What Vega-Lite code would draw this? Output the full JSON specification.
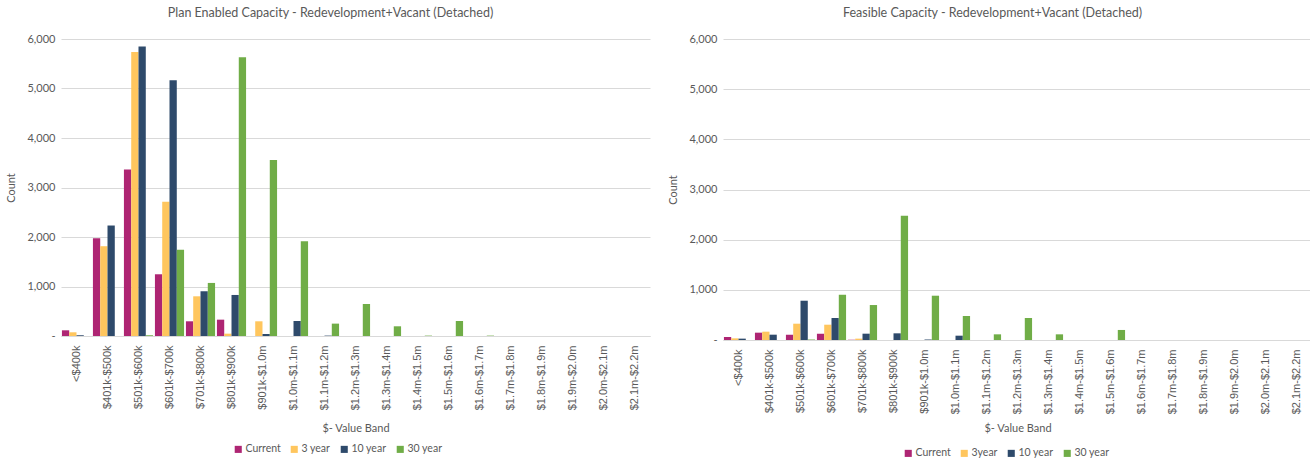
{
  "$schema": "https://vega.github.io/schema/vega-lite/v6.json",
  "background": "white",
  "padding": {"left": 5, "right": 3, "top": 6, "bottom": 0},
  "config": {
    "font": "Lato",
    "view": {"stroke": null},
    "concat": {"spacing": 17},
    "title": {"fontSize": 12.5, "fontWeight": "normal", "color": "#595959", "font": "Lato", "offset": 14},
    "axis": {"labelColor": "#595959", "titleColor": "#595959", "titleFontWeight": "normal", "titleFont": "Lato", "labelFontSize": 10.5, "titleFontSize": 11},
    "legend": {"orient": "none", "direction": "horizontal", "title": null, "symbolType": "square", "symbolSize": 50, "labelFontSize": 10.5, "labelColor": "#595959", "labelFont": "Lato", "columnPadding": 8, "symbolStrokeWidth": 0, "padding": 0, "labelOffset": 2}
  },
  "resolve": {"legend": {"color": "independent"}},
  "datasets": {
    "plan": [
      {"band": "<$400k", "series": "Current", "value": 115}, {"band": "<$400k", "series": "3 year", "value": 75}, {"band": "<$400k", "series": "10 year", "value": 15}, {"band": "<$400k", "series": "30 year", "value": 0},
      {"band": "$401k-$500k", "series": "Current", "value": 1976}, {"band": "$401k-$500k", "series": "3 year", "value": 1814}, {"band": "$401k-$500k", "series": "10 year", "value": 2232}, {"band": "$401k-$500k", "series": "30 year", "value": 0},
      {"band": "$501k-$600k", "series": "Current", "value": 3365}, {"band": "$501k-$600k", "series": "3 year", "value": 5738}, {"band": "$501k-$600k", "series": "10 year", "value": 5846}, {"band": "$501k-$600k", "series": "30 year", "value": 15},
      {"band": "$601k-$700k", "series": "Current", "value": 1247}, {"band": "$601k-$700k", "series": "3 year", "value": 2711}, {"band": "$601k-$700k", "series": "10 year", "value": 5165}, {"band": "$601k-$700k", "series": "30 year", "value": 1740},
      {"band": "$701k-$800k", "series": "Current", "value": 297}, {"band": "$701k-$800k", "series": "3 year", "value": 802}, {"band": "$701k-$800k", "series": "10 year", "value": 904}, {"band": "$701k-$800k", "series": "30 year", "value": 1072},
      {"band": "$801k-$900k", "series": "Current", "value": 330}, {"band": "$801k-$900k", "series": "3 year", "value": 47}, {"band": "$801k-$900k", "series": "10 year", "value": 829}, {"band": "$801k-$900k", "series": "30 year", "value": 5630},
      {"band": "$901k-$1.0m", "series": "Current", "value": 0}, {"band": "$901k-$1.0m", "series": "3 year", "value": 297}, {"band": "$901k-$1.0m", "series": "10 year", "value": 40}, {"band": "$901k-$1.0m", "series": "30 year", "value": 3554},
      {"band": "$1.0m-$1.1m", "series": "Current", "value": 0}, {"band": "$1.0m-$1.1m", "series": "3 year", "value": 0}, {"band": "$1.0m-$1.1m", "series": "10 year", "value": 303}, {"band": "$1.0m-$1.1m", "series": "30 year", "value": 1915},
      {"band": "$1.1m-$1.2m", "series": "Current", "value": 0}, {"band": "$1.1m-$1.2m", "series": "3 year", "value": 0}, {"band": "$1.1m-$1.2m", "series": "10 year", "value": 8}, {"band": "$1.1m-$1.2m", "series": "30 year", "value": 250},
      {"band": "$1.2m-$1.3m", "series": "Current", "value": 0}, {"band": "$1.2m-$1.3m", "series": "3 year", "value": 0}, {"band": "$1.2m-$1.3m", "series": "10 year", "value": 0}, {"band": "$1.2m-$1.3m", "series": "30 year", "value": 647},
      {"band": "$1.3m-$1.4m", "series": "Current", "value": 0}, {"band": "$1.3m-$1.4m", "series": "3 year", "value": 0}, {"band": "$1.3m-$1.4m", "series": "10 year", "value": 0}, {"band": "$1.3m-$1.4m", "series": "30 year", "value": 196},
      {"band": "$1.4m-$1.5m", "series": "Current", "value": 0}, {"band": "$1.4m-$1.5m", "series": "3 year", "value": 0}, {"band": "$1.4m-$1.5m", "series": "10 year", "value": 0}, {"band": "$1.4m-$1.5m", "series": "30 year", "value": 8},
      {"band": "$1.5m-$1.6m", "series": "Current", "value": 0}, {"band": "$1.5m-$1.6m", "series": "3 year", "value": 0}, {"band": "$1.5m-$1.6m", "series": "10 year", "value": 0}, {"band": "$1.5m-$1.6m", "series": "30 year", "value": 303},
      {"band": "$1.6m-$1.7m", "series": "Current", "value": 0}, {"band": "$1.6m-$1.7m", "series": "3 year", "value": 0}, {"band": "$1.6m-$1.7m", "series": "10 year", "value": 0}, {"band": "$1.6m-$1.7m", "series": "30 year", "value": 8},
      {"band": "$1.7m-$1.8m", "series": "Current", "value": 0}, {"band": "$1.7m-$1.8m", "series": "3 year", "value": 0}, {"band": "$1.7m-$1.8m", "series": "10 year", "value": 0}, {"band": "$1.7m-$1.8m", "series": "30 year", "value": 0},
      {"band": "$1.8m-$1.9m", "series": "Current", "value": 0}, {"band": "$1.8m-$1.9m", "series": "3 year", "value": 0}, {"band": "$1.8m-$1.9m", "series": "10 year", "value": 0}, {"band": "$1.8m-$1.9m", "series": "30 year", "value": 0},
      {"band": "$1.9m-$2.0m", "series": "Current", "value": 0}, {"band": "$1.9m-$2.0m", "series": "3 year", "value": 0}, {"band": "$1.9m-$2.0m", "series": "10 year", "value": 0}, {"band": "$1.9m-$2.0m", "series": "30 year", "value": 0},
      {"band": "$2.0m-$2.1m", "series": "Current", "value": 0}, {"band": "$2.0m-$2.1m", "series": "3 year", "value": 0}, {"band": "$2.0m-$2.1m", "series": "10 year", "value": 0}, {"band": "$2.0m-$2.1m", "series": "30 year", "value": 0},
      {"band": "$2.1m-$2.2m", "series": "Current", "value": 0}, {"band": "$2.1m-$2.2m", "series": "3 year", "value": 0}, {"band": "$2.1m-$2.2m", "series": "10 year", "value": 0}, {"band": "$2.1m-$2.2m", "series": "30 year", "value": 0}
    ],
    "feasible": [
      {"band": "<$400k", "series": "Current", "value": 60}, {"band": "<$400k", "series": "3 year", "value": 33}, {"band": "<$400k", "series": "10 year", "value": 27}, {"band": "<$400k", "series": "30 year", "value": 0},
      {"band": "$401k-$500k", "series": "Current", "value": 146}, {"band": "$401k-$500k", "series": "3 year", "value": 166}, {"band": "$401k-$500k", "series": "10 year", "value": 106}, {"band": "$401k-$500k", "series": "30 year", "value": 0},
      {"band": "$501k-$600k", "series": "Current", "value": 106}, {"band": "$501k-$600k", "series": "3 year", "value": 325}, {"band": "$501k-$600k", "series": "10 year", "value": 783}, {"band": "$501k-$600k", "series": "30 year", "value": 10},
      {"band": "$601k-$700k", "series": "Current", "value": 126}, {"band": "$601k-$700k", "series": "3 year", "value": 305}, {"band": "$601k-$700k", "series": "10 year", "value": 438}, {"band": "$601k-$700k", "series": "30 year", "value": 902},
      {"band": "$701k-$800k", "series": "Current", "value": 7}, {"band": "$701k-$800k", "series": "3 year", "value": 27}, {"band": "$701k-$800k", "series": "10 year", "value": 126}, {"band": "$701k-$800k", "series": "30 year", "value": 697},
      {"band": "$801k-$900k", "series": "Current", "value": 0}, {"band": "$801k-$900k", "series": "3 year", "value": 0}, {"band": "$801k-$900k", "series": "10 year", "value": 133}, {"band": "$801k-$900k", "series": "30 year", "value": 2475},
      {"band": "$901k-$1.0m", "series": "Current", "value": 0}, {"band": "$901k-$1.0m", "series": "3 year", "value": 0}, {"band": "$901k-$1.0m", "series": "10 year", "value": 10}, {"band": "$901k-$1.0m", "series": "30 year", "value": 883},
      {"band": "$1.0m-$1.1m", "series": "Current", "value": 0}, {"band": "$1.0m-$1.1m", "series": "3 year", "value": 0}, {"band": "$1.0m-$1.1m", "series": "10 year", "value": 86}, {"band": "$1.0m-$1.1m", "series": "30 year", "value": 478},
      {"band": "$1.1m-$1.2m", "series": "Current", "value": 0}, {"band": "$1.1m-$1.2m", "series": "3 year", "value": 0}, {"band": "$1.1m-$1.2m", "series": "10 year", "value": 0}, {"band": "$1.1m-$1.2m", "series": "30 year", "value": 113},
      {"band": "$1.2m-$1.3m", "series": "Current", "value": 0}, {"band": "$1.2m-$1.3m", "series": "3 year", "value": 0}, {"band": "$1.2m-$1.3m", "series": "10 year", "value": 0}, {"band": "$1.2m-$1.3m", "series": "30 year", "value": 438},
      {"band": "$1.3m-$1.4m", "series": "Current", "value": 0}, {"band": "$1.3m-$1.4m", "series": "3 year", "value": 0}, {"band": "$1.3m-$1.4m", "series": "10 year", "value": 0}, {"band": "$1.3m-$1.4m", "series": "30 year", "value": 113},
      {"band": "$1.4m-$1.5m", "series": "Current", "value": 0}, {"band": "$1.4m-$1.5m", "series": "3 year", "value": 0}, {"band": "$1.4m-$1.5m", "series": "10 year", "value": 0}, {"band": "$1.4m-$1.5m", "series": "30 year", "value": 0},
      {"band": "$1.5m-$1.6m", "series": "Current", "value": 0}, {"band": "$1.5m-$1.6m", "series": "3 year", "value": 0}, {"band": "$1.5m-$1.6m", "series": "10 year", "value": 0}, {"band": "$1.5m-$1.6m", "series": "30 year", "value": 200},
      {"band": "$1.6m-$1.7m", "series": "Current", "value": 0}, {"band": "$1.6m-$1.7m", "series": "3 year", "value": 0}, {"band": "$1.6m-$1.7m", "series": "10 year", "value": 0}, {"band": "$1.6m-$1.7m", "series": "30 year", "value": 0},
      {"band": "$1.7m-$1.8m", "series": "Current", "value": 0}, {"band": "$1.7m-$1.8m", "series": "3 year", "value": 0}, {"band": "$1.7m-$1.8m", "series": "10 year", "value": 0}, {"band": "$1.7m-$1.8m", "series": "30 year", "value": 0},
      {"band": "$1.8m-$1.9m", "series": "Current", "value": 0}, {"band": "$1.8m-$1.9m", "series": "3 year", "value": 0}, {"band": "$1.8m-$1.9m", "series": "10 year", "value": 0}, {"band": "$1.8m-$1.9m", "series": "30 year", "value": 0},
      {"band": "$1.9m-$2.0m", "series": "Current", "value": 0}, {"band": "$1.9m-$2.0m", "series": "3 year", "value": 0}, {"band": "$1.9m-$2.0m", "series": "10 year", "value": 0}, {"band": "$1.9m-$2.0m", "series": "30 year", "value": 0},
      {"band": "$2.0m-$2.1m", "series": "Current", "value": 0}, {"band": "$2.0m-$2.1m", "series": "3 year", "value": 0}, {"band": "$2.0m-$2.1m", "series": "10 year", "value": 0}, {"band": "$2.0m-$2.1m", "series": "30 year", "value": 0},
      {"band": "$2.1m-$2.2m", "series": "Current", "value": 0}, {"band": "$2.1m-$2.2m", "series": "3 year", "value": 0}, {"band": "$2.1m-$2.2m", "series": "10 year", "value": 0}, {"band": "$2.1m-$2.2m", "series": "30 year", "value": 0}
    ]
  },
  "hconcat": [
    {
      "data": {"name": "plan"},
      "title": {"text": "Plan Enabled Capacity - Redevelopment+Vacant (Detached)", "dx": -25},
      "width": 589,
      "height": 297,
      "mark": {"type": "bar"},
      "encoding": {
        "x": {"field": "band", "type": "nominal", "sort": ["<$400k", "$401k-$500k", "$501k-$600k", "$601k-$700k", "$701k-$800k", "$801k-$900k", "$901k-$1.0m", "$1.0m-$1.1m", "$1.1m-$1.2m", "$1.2m-$1.3m", "$1.3m-$1.4m", "$1.4m-$1.5m", "$1.5m-$1.6m", "$1.6m-$1.7m", "$1.7m-$1.8m", "$1.8m-$1.9m", "$1.9m-$2.0m", "$2.0m-$2.1m", "$2.1m-$2.2m"],
          "scale": {"paddingInner": 0.06, "paddingOuter": 0.03},
          "axis": {"title": "$- Value Band", "labelAngle": -90, "labelFont": "Liberation Sans", "labelFontSize": 11, "ticks": false, "labelPadding": 9, "domainColor": "#D9D9D9", "titlePadding": 13, "grid": false}},
        "xOffset": {"field": "series", "type": "nominal", "sort": ["Current", "3 year", "10 year", "30 year"]},
        "y": {"field": "value", "type": "quantitative", "scale": {"domain": [0, 6000]},
          "axis": {"title": "Count", "labelFont": "Lato", "labelFontSize": 11, "values": [0, 1000, 2000, 3000, 4000, 5000, 6000], "labelExpr": "datum.value == 0 ? '-' : format(datum.value, ',')", "ticks": false, "domain": false, "gridColor": "#D9D9D9", "labelPadding": 6, "titlePadding": 10}},
        "color": {"field": "series", "type": "nominal", "sort": ["Current", "3 year", "10 year", "30 year"],
          "scale": {"domain": ["Current", "3 year", "10 year", "30 year"], "range": ["#AE2573", "#FFC65E", "#2E4A6B", "#70AD47"]},
          "legend": {"legendX": 172, "legendY": 405}}
      }
    },
    {
      "data": {"name": "feasible"},
      "title": {"text": "Feasible Capacity - Redevelopment+Vacant (Detached)", "dx": -25},
      "width": 589,
      "height": 301,
      "mark": {"type": "bar"},
      "encoding": {
        "x": {"field": "band", "type": "nominal", "sort": ["<$400k", "$401k-$500k", "$501k-$600k", "$601k-$700k", "$701k-$800k", "$801k-$900k", "$901k-$1.0m", "$1.0m-$1.1m", "$1.1m-$1.2m", "$1.2m-$1.3m", "$1.3m-$1.4m", "$1.4m-$1.5m", "$1.5m-$1.6m", "$1.6m-$1.7m", "$1.7m-$1.8m", "$1.8m-$1.9m", "$1.9m-$2.0m", "$2.0m-$2.1m", "$2.1m-$2.2m"],
          "scale": {"paddingInner": 0.06, "paddingOuter": 0.03},
          "axis": {"title": "$- Value Band", "labelAngle": -90, "labelFont": "Liberation Sans", "labelFontSize": 11, "ticks": false, "labelPadding": 9, "domainColor": "#D9D9D9", "titlePadding": 9, "grid": false}},
        "xOffset": {"field": "series", "type": "nominal", "sort": ["Current", "3 year", "10 year", "30 year"]},
        "y": {"field": "value", "type": "quantitative", "scale": {"domain": [0, 6000]},
          "axis": {"title": "Count", "labelFont": "Lato", "labelFontSize": 11, "values": [0, 1000, 2000, 3000, 4000, 5000, 6000], "labelExpr": "datum.value == 0 ? '-' : format(datum.value, ',')", "ticks": false, "domain": false, "gridColor": "#D9D9D9", "labelPadding": 6, "titlePadding": 10}},
        "color": {"field": "series", "type": "nominal", "sort": ["Current", "3 year", "10 year", "30 year"],
          "scale": {"domain": ["Current", "3 year", "10 year", "30 year"], "range": ["#AE2573", "#FFC65E", "#2E4A6B", "#70AD47"]},
          "legend": {"labelExpr": "datum.label == '3 year' ? '3year' : datum.label", "legendX": 180, "legendY": 409}}
      }
    }
  ]
}
